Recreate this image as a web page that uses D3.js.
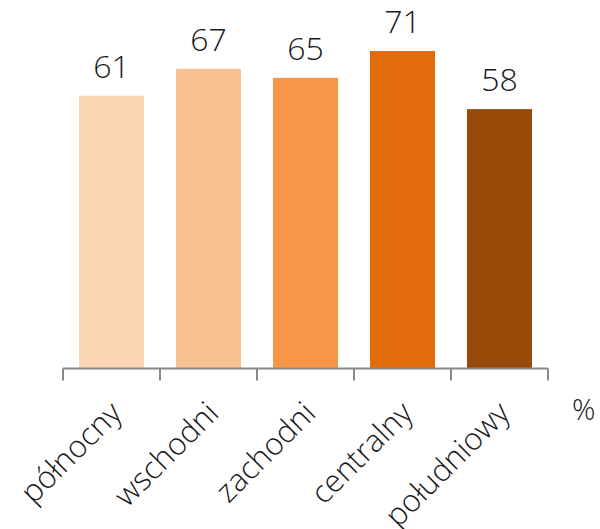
<!DOCTYPE html>
<html><head><meta charset="utf-8">
<script src="https://cdn.jsdelivr.net/npm/d3@7"></script>
<style>body{margin:0;background:#fff}svg{display:block}text{font-family:"Open Sans","Noto Sans",sans-serif;font-weight:300;fill:#1a1a1a}</style>
</head><body><svg id="c" width="600" height="529"></svg>
<script>
const categories = ["północny","wschodni","zachodni","centralny","południowy"];
const values = [61,67,65,71,58];
const colors = ["#FCD5B5","#F9C090","#F79646","#E36C0A","#984807"];
const unitLabel = "%";

const svg = d3.select("#c");
const x = d3.scaleBand().domain(categories).range([63,548]).paddingInner(0.33).paddingOuter(0.165);
const y = d3.scaleLinear().domain([0,71]).range([368.5,51]);

svg.selectAll("rect.bar").data(values).join("rect").attr("class","bar")
  .attr("x",(d,i)=>x(categories[i])).attr("width",x.bandwidth())
  .attr("y",d=>y(d)).attr("height",d=>y(0)-y(d))
  .attr("fill",(d,i)=>colors[i]);

svg.selectAll("text.val").data(values).join("text").attr("class","val")
  .attr("x",(d,i)=>x(categories[i])+x.bandwidth()/2).attr("y",d=>y(d)-18)
  .attr("text-anchor","middle").style("font-size","32px").text(d=>d);

// axis
const ax = svg.append("g").attr("transform","translate(0,368.5)");
ax.append("line").attr("x1",63).attr("x2",548).attr("stroke","#898989").attr("stroke-width",2);
const tickPos = d3.range(categories.length+1).map(i=>63+i*(485/categories.length));
ax.selectAll("line.tick").data(tickPos).join("line").attr("class","tick")
  .attr("x1",d=>d).attr("x2",d=>d).attr("y1",0).attr("y2",12)
  .attr("stroke","#898989").attr("stroke-width",2);

svg.selectAll("text.cat").data(categories).join("text").attr("class","cat")
  .attr("transform",d=>`translate(${x(d)+x.bandwidth()/2+12},415) rotate(-45)`)
  .attr("text-anchor","end").style("font-size","31px").text(d=>d);

svg.append("text").attr("x",572).attr("y",420).style("font-size","29px").text(unitLabel);
</script></body></html>
